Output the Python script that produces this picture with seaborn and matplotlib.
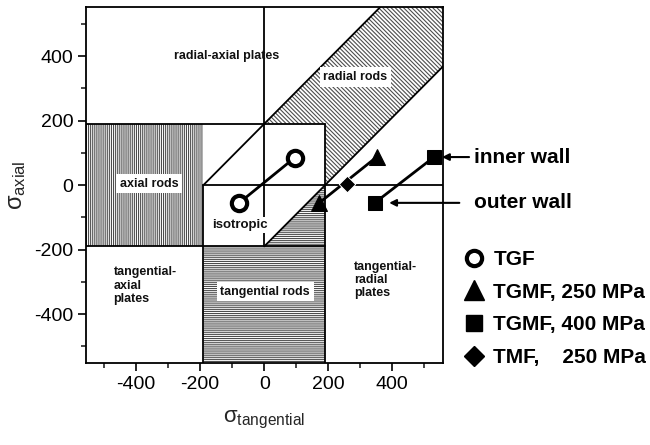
import matplotlib
matplotlib.use("Agg")
import matplotlib.pyplot as plt
import seaborn as sns
import pandas as pd
from matplotlib.patches import Polygon
from matplotlib.lines import Line2D

# ---- data ----
series_names = ["TGF", "TGMF, 250 MPa", "TGMF, 400 MPa", "TMF,    250 MPa"]
tgf_x = [-78, 95]
tgf_y = [-55, 85]
tgmf250_x = [172, 352]
tgmf250_y = [-55, 88]
tgmf400_x = [345, 530]
tgmf400_y = [-55, 87]
tmf250_x = [257]
tmf250_y = [2]

x_ticks = [-400, -200, 0, 200, 400]
y_ticks = [-400, -200, 0, 200, 400]

sns.set_theme(style="ticks")
plt.rcParams['font.family'] = ['Liberation Sans', 'DejaVu Sans']
plt.rcParams['mathtext.fontset'] = 'custom'
plt.rcParams['mathtext.rm'] = 'Liberation Sans'
plt.rcParams['mathtext.it'] = 'Liberation Sans'
plt.rcParams['mathtext.bf'] = 'Liberation Sans:bold'
plt.rcParams['hatch.linewidth'] = 0.8
plt.rcParams['axes.unicode_minus'] = False
plt.rcParams['text.color'] = 'black'

fig = plt.figure(figsize=(6.5, 4.45), dpi=100)
ax = fig.add_axes([0.132, 0.184, 0.549, 0.800])
ax.set_xlim(-557, 557)
ax.set_ylim(-552, 552)

E = 600
hcol = '0.3'
# hatched regions
ax.add_patch(Polygon([(-E, -190), (-190, -190), (-190, 190), (-E, 190)], closed=True,
                     facecolor='white', edgecolor=hcol, lw=0, hatch='|' * 8, zorder=1))
ax.add_patch(Polygon([(-190, -E), (190, -E), (190, 0), (0, -190), (-190, -190)], closed=True,
                     facecolor='white', edgecolor=hcol, lw=0, hatch='-' * 8, zorder=1))
ax.add_patch(Polygon([(0, 190), (E - 190, E), (E, E), (E, E - 190), (190, 0), (190, 190)], closed=True,
                     facecolor='white', edgecolor=hcol, lw=0, hatch='\\' * 8, zorder=1))

lk = dict(color='black', lw=1.3, zorder=2)
ax.plot([0, 0], [-190, E], **lk)
ax.plot([-E, 190], [190, 190], **lk)
ax.plot([-E, 190], [-190, -190], **lk)
ax.plot([-190, -190], [-E, 0], **lk)
ax.plot([190, 190], [-E, 190], **lk)
ax.plot([-190, E], [0, 0], **lk)
ax.plot([-190, E - 190], [0, E], **lk)
ax.plot([0, E], [-190, E - 190], **lk)

# region labels
lab = dict(fontsize=9, fontweight='bold', color='#111111', zorder=3)
wb = dict(boxstyle='square,pad=0.3', facecolor='white', edgecolor='none')
ax.text(-118, 400, "radial-axial plates", ha='center', va='center', **lab)
ax.text(285, 335, "radial rods", ha='center', va='center', bbox=wb, **lab)
ax.text(-360, 5, "axial rods", ha='center', va='center', bbox=wb, **lab)
ax.text(-75, -124, "isotropic", ha='center', va='center', fontsize=9.5, fontweight='bold',
        color='#111111', zorder=3,
        bbox=dict(boxstyle='square,pad=0.18', facecolor='white', edgecolor='none'))
ax.text(3, -330, "tangential rods", ha='center', va='center', bbox=wb, **lab)
ax.text(-470, -252, "tangential-\naxial\nplates", ha='left', va='top', linespacing=1.15, **lab)
ax.text(280, -234, "tangential-\nradial\nplates", ha='left', va='top', linespacing=1.15, **lab)

# data series
df_tgf = pd.DataFrame({"x": tgf_x, "y": tgf_y})
df_t250 = pd.DataFrame({"x": tgmf250_x, "y": tgmf250_y})
df_t400 = pd.DataFrame({"x": tgmf400_x, "y": tgmf400_y})
df_tmf = pd.DataFrame({"x": tmf250_x, "y": tmf250_y})

sns.lineplot(data=df_tgf, x="x", y="y", ax=ax, color='black', lw=2, marker='o', markersize=11,
             markerfacecolor='white', markeredgecolor='black', markeredgewidth=3, zorder=5, clip_on=False)
sns.lineplot(data=df_t250, x="x", y="y", ax=ax, color='black', lw=2, marker='^', markersize=12,
             markerfacecolor='black', markeredgecolor='black', zorder=5, clip_on=False)
sns.lineplot(data=df_t400, x="x", y="y", ax=ax, color='black', lw=2, marker='s', markersize=10,
             markerfacecolor='black', markeredgecolor='black', zorder=5, clip_on=False)
sns.scatterplot(data=df_tmf, x="x", y="y", ax=ax, color='black', marker='D', s=70, zorder=6, clip_on=False)

# annotations
ax.annotate("inner wall", xy=(555, 87), xycoords='data', xytext=(654, 87), textcoords='data',
            fontsize=15, fontweight='bold', ha='left', va='center', annotation_clip=False,
            arrowprops=dict(arrowstyle='-|>', color='black', lw=1.5, mutation_scale=10, shrinkA=1, shrinkB=0))
ax.annotate("outer wall", xy=(390, -55), xycoords='data', xytext=(654, -55), textcoords='data',
            fontsize=15, fontweight='bold', ha='left', va='center', annotation_clip=False,
            arrowprops=dict(arrowstyle='-|>', color='black', lw=1.5, mutation_scale=10, shrinkA=8, shrinkB=0))

# axes styling
for s in ax.spines.values():
    s.set_linewidth(1.3)
    s.set_color('black')
ax.set_xticks(x_ticks)
ax.set_yticks(y_ticks)
ax.set_xticks([-500, -300, -100, 100, 300, 500], minor=True)
ax.set_yticks([-500, -300, -100, 100, 300, 500], minor=True)
ax.tick_params(which='major', direction='out', length=6, width=1.2, labelsize=14, colors='black', pad=3)
ax.tick_params(which='minor', direction='out', length=3.5, width=1.2)
ax.tick_params(top=False, right=False, which='both')
ax.set_xlabel(r"$\sigma_{\rm tangential}$", fontsize=16, labelpad=12)
ax.set_ylabel(r"$\sigma_{\rm axial}$", fontsize=17, labelpad=4)

# legend
handles = [
    Line2D([], [], ls='none', marker='o', markersize=11, markerfacecolor='white', markeredgecolor='black', markeredgewidth=3),
    Line2D([], [], ls='none', marker='^', markersize=14, color='black'),
    Line2D([], [], ls='none', marker='s', markersize=11, color='black'),
    Line2D([], [], ls='none', marker='D', markersize=10, color='black'),
]
leg = fig.legend(handles, series_names, loc='upper left', bbox_to_anchor=(0.703, 0.457),
                 frameon=False, prop={'size': 15, 'weight': 'bold'}, handlelength=0.8,
                 handletextpad=0.55, labelspacing=0.66, borderaxespad=0)

fig.savefig("out.png", dpi=100)
